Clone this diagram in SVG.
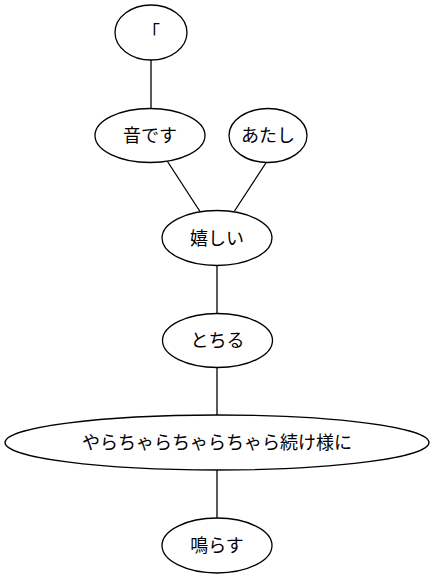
<svg xmlns="http://www.w3.org/2000/svg" width="434" height="579" viewBox="0 0 434 579">
<style>
.n ellipse{fill:#fff;stroke:#000;stroke-width:1.3}
.n text{font-family:"Liberation Serif","Noto Sans CJK JP",serif;font-size:18px;text-anchor:middle;fill:#000}
#edges line{stroke:#000;stroke-width:1.3}
</style>
<rect width="434" height="579" fill="#fff"/>
<g id="edges">
<line x1="151" y1="60" x2="151" y2="109"/>
<line x1="167.5" y1="161.5" x2="200" y2="211.5"/>
<line x1="266.5" y1="162" x2="234.5" y2="211"/>
<line x1="217" y1="265.5" x2="217" y2="313.5"/>
<line x1="217" y1="367.5" x2="217" y2="415.5"/>
<line x1="217" y1="470" x2="217" y2="518"/>
</g>
<g id="n1" class="n"><ellipse cx="151" cy="32.5" rx="36" ry="27.5"/><text x="151" y="39">「</text></g>
<g id="n2" class="n"><ellipse cx="150" cy="135.5" rx="55" ry="27"/><text x="150" y="142">音です</text></g>
<g id="n3" class="n"><ellipse cx="268" cy="135.5" rx="39" ry="27"/><text x="268" y="142">あたし</text></g>
<g id="n4" class="n"><ellipse cx="217" cy="238" rx="55" ry="27.5"/><text x="217" y="244.5">嬉しい</text></g>
<g id="n5" class="n"><ellipse cx="217.5" cy="340.5" rx="55" ry="27"/><text x="217.5" y="347">とちる</text></g>
<g id="n6" class="n"><ellipse cx="217" cy="442.5" rx="212" ry="27.5"/><text x="217" y="449">やらちゃらちゃらちゃら続け様に</text></g>
<g id="n7" class="n"><ellipse cx="217" cy="545.5" rx="55" ry="27.5"/><text x="217" y="552">鳴らす</text></g>
</svg>
